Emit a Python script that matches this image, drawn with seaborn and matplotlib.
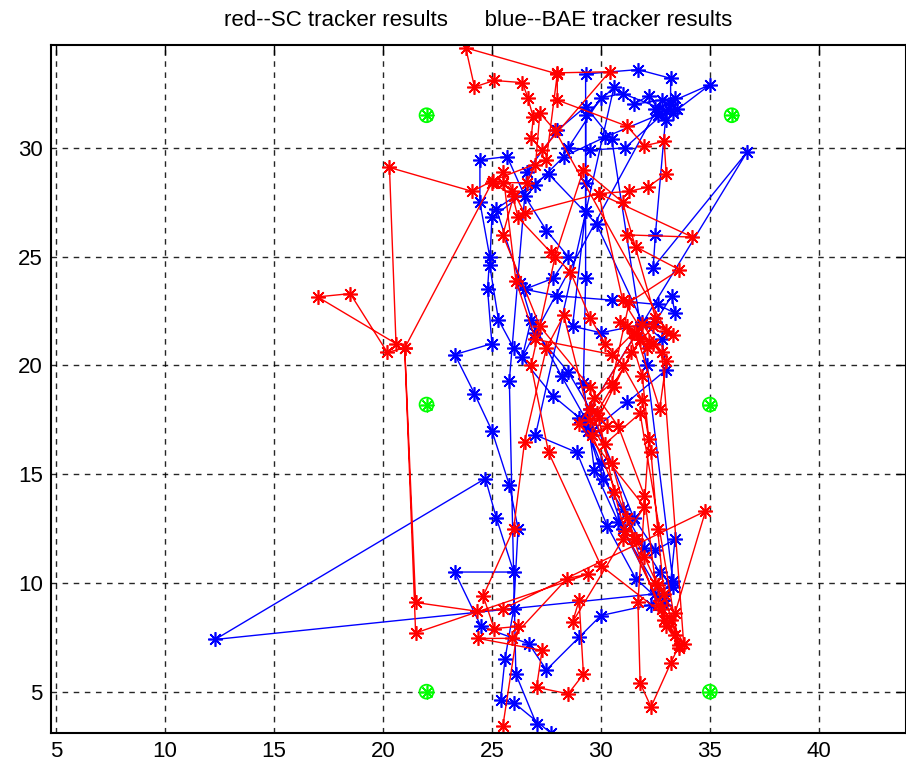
import numpy as np
import pandas as pd
import seaborn as sns
import matplotlib
matplotlib.use("Agg")
import matplotlib.pyplot as plt

# ---- data ----
red_x = [25.5, 26.2, 25.1, 24.6, 26.0, 26.5, 27.5, 28.3, 29.5, 30.5, 31.5, 32.6, 33.0, 33.6, 33.2, 32.3,
         31.8, 31.7, 32.2, 31.9, 31.2, 32.2, 31.0, 29.9, 31.3, 32.15, 33.0, 32.9, 32.0, 31.2, 28.0, 28.0,
         30.4, 27.3, 26.8, 26.9, 26.65, 26.4, 25.1, 24.2, 23.8, 28.0, 27.5, 25.05, 24.1, 20.3, 20.6, 17.0,
         18.5, 20.2, 21.0, 25.0, 26.0, 25.5, 27.2, 29.5, 30.8, 32.0, 32.5, 33.4, 34.8, 25.5, 24.3, 21.5,
         21.0, 21.5, 29.4, 28.45, 25.9, 24.35, 27.3, 27.05, 28.5, 29.2, 29.0, 28.7, 31.0, 32.0, 29.0, 29.7,
         30.5, 31.3, 33.6, 31.6, 31.2, 34.2, 29.9, 26.5, 25.5, 26.1, 27.0, 30.5, 31.5, 32.4, 33.0, 32.7,
         31.6, 32.1, 30.9, 31.8, 29.8, 30.3, 29.6, 31.2, 31.6, 32.0, 32.6, 32.9, 33.4, 32.8, 31.1, 30.6,
         29.9, 30.6, 31.4, 32.4, 33.0, 27.9, 27.2, 27.0, 26.6, 25.5, 25.9, 26.2, 27.7, 28.6, 29.5, 30.2,
         31.0, 31.9, 32.3, 32.6, 32.9, 33.6,
         31.8, 30.2, 29.5, 31.9, 32.8, 33.8, 33.2, 30.0, 27.6, 26.8, 27.9, 29.2, 31.0, 32.5, 33.3]
red_y = [3.4, 8.0, 7.9, 9.4, 12.5, 16.5, 20.8, 22.3, 17.5, 15.5, 12.0, 9.0, 8.0, 7.15, 6.3, 4.3,
         5.4, 9.1, 16.6, 19.5, 21.8, 21.1, 23.0, 27.9, 28.0, 28.2, 28.8, 30.3, 30.1, 31.0, 32.2, 33.45,
         33.5, 29.9, 30.45, 31.4, 32.3, 33.0, 33.1, 32.8, 34.6, 33.4, 29.45, 28.5, 28.0, 29.1, 21.0, 23.15,
         23.3, 20.6, 20.8, 28.4, 27.8, 26.0, 21.8, 19.0, 17.2, 14.0, 10.0, 8.6, 13.3, 8.8, 8.7, 9.1,
         20.8, 7.7, 10.4, 10.2, 7.45, 7.45, 6.9, 5.2, 4.9, 5.8, 9.2, 8.2, 12.0, 13.5, 17.3, 18.5,
         19.2, 22.9, 24.4, 25.45, 26.0, 25.9, 27.9, 27.0, 28.9, 23.9, 21.2, 20.5, 21.5, 21.0, 20.2, 18.0,
         21.5, 20.8, 22.0, 21.2, 17.8, 17.2, 16.8, 13.0, 12.0, 11.2, 9.9, 8.3, 7.6, 8.8, 12.4, 14.2,
         17.6, 19.0, 20.6, 21.8, 21.6, 30.8, 31.6, 29.2, 28.4, 28.4, 28.0, 26.8, 25.2, 24.3, 22.2, 21.0,
         20.0, 18.4, 16.0, 12.5, 9.5, 7.0,
         17.8, 16.4, 18.0, 21.9, 20.6, 7.2, 8.3, 10.8, 16.0, 20.0, 25.0, 29.0, 27.5, 22.2, 21.4]

blue_x = [27.7, 26.0, 25.4, 25.6, 26.0, 26.2, 25.8, 25.0, 24.2, 23.3, 25.0, 24.8, 24.9, 24.45, 24.45, 25.7,
          26.5, 27.5, 28.5, 27.8, 26.5, 28.0, 30.5, 32.6, 33.4, 33.25, 32.5, 30.0, 28.7, 29.3, 29.3, 31.7,
          33.2, 33.2, 32.5, 35.0, 33.3, 31.0, 30.0, 28.5, 29.5, 31.1, 33.0, 32.5, 32.4, 36.7, 29.2, 30.0,
          31.0, 32.5, 12.3, 24.7, 25.2, 26.0, 23.3, 24.5, 26.7, 27.5, 29.0, 30.0, 32.3, 33.2, 33.4, 32.5,
          31.5, 29.5, 28.5, 27.0, 26.3, 25.2, 27.6, 29.8, 31.9, 32.8, 33.0, 31.2, 29.6, 28.2, 26.8, 26.4,
          32.8, 33.5, 33.0, 32.2, 31.5, 33.4, 32.6, 30.2, 28.3, 27.0, 25.0, 24.9, 25.3, 26.0, 27.8, 29.0,
          29.4, 30.1, 31.0, 32.0, 32.7, 33.3, 32.9, 30.8, 29.7, 29.2, 29.3, 29.3, 29.3, 30.6,
          27.0, 28.9, 30.3, 31.6, 32.9, 33.3, 32.1, 30.5, 29.3, 28.0, 26.6, 25.8, 26.1, 27.05]
blue_y = [3.1, 4.5, 4.6, 6.5, 8.8, 12.5, 14.5, 17.0, 18.7, 20.5, 21.0, 23.5, 25.0, 27.5, 29.45, 29.6,
          27.8, 26.2, 25.0, 24.0, 23.5, 23.2, 23.0, 22.8, 22.4, 23.2, 22.0, 21.5, 21.8, 27.1, 33.4, 33.6,
          33.2, 32.0, 31.8, 32.9, 31.6, 32.5, 32.3, 30.0, 29.9, 30.0, 31.7, 26.0, 24.5, 29.8, 17.5, 15.5,
          12.5, 9.5, 7.4, 14.8, 13.0, 10.5, 10.5, 8.0, 7.2, 6.0, 7.5, 8.5, 9.0, 10.0, 12.0, 11.5,
          13.0, 18.0, 19.7, 21.5, 23.8, 27.2, 28.8, 26.5, 22.0, 21.2, 19.8, 18.3, 17.0, 19.5, 22.1, 20.4,
          32.2, 31.8, 31.3, 32.4, 32.0, 32.3, 31.5, 30.5, 29.6, 28.3, 26.8, 24.6, 22.1, 20.8, 18.6, 17.6,
          17.0, 14.8, 13.4, 11.6, 10.5, 9.8, 9.2, 12.8, 15.2, 19.2, 24.0, 28.4, 31.5, 32.8,
          16.8, 16.0, 12.6, 10.2, 9.0, 10.1, 20.0, 30.4, 31.9, 30.8, 28.9, 19.3, 5.8, 3.5]

ref_x = [22, 36, 22, 35, 22, 35]
ref_y = [31.5, 31.5, 18.2, 18.2, 5.0, 5.0]

xticks = [5, 10, 15, 20, 25, 30, 35, 40]
yticks = [5, 10, 15, 20, 25, 30]
title = "red--SC tracker results      blue--BAE tracker results"

# ---- plot ----
sns.set_style("white")
plt.rcParams['font.family'] = ['Liberation Sans Narrow', 'Liberation Sans', 'DejaVu Sans']

fig = plt.figure(figsize=(9.06, 7.70), dpi=100)
ax = fig.add_axes([51 / 906, 1 - 733 / 770, 1 - 51 / 906, (733 - 45) / 770])

ast = (8, 2, 0)
sns.lineplot(x=blue_x, y=blue_y, sort=False, estimator=None, color='#0000ff', lw=1.0,
             marker=ast, markersize=10.5, markeredgewidth=1.2, markeredgecolor='#0000ff', ax=ax)
sns.lineplot(x=red_x, y=red_y, sort=False, estimator=None, color='#ff0000', lw=1.0,
             marker=ast, markersize=10.5, markeredgewidth=1.2, markeredgecolor='#ff0000', ax=ax)
sns.scatterplot(x=ref_x, y=ref_y, marker='o', s=100, facecolor='none', edgecolor='#00ff00',
                linewidth=1.3, ax=ax, zorder=5)
sns.scatterplot(x=ref_x, y=ref_y, marker=ast, s=80, color='#00ff00', edgecolor='#00ff00',
                linewidth=1.2, ax=ax, zorder=5)

ax.set_xlim(4.77, 44.0)
ax.set_ylim(3.1, 34.73)
ax.set_xticks(xticks)
ax.set_yticks(yticks)
ax.grid(True, color='black', linestyle=(0, (4, 4)), linewidth=1.0, alpha=0.85)
ax.set_axisbelow(True)
ax.tick_params(direction='in', length=7, width=1, top=True, right=True, labelsize=16,
               colors='black', pad=6)
for s in ax.spines.values():
    s.set_color('black')
    s.set_linewidth(1.5)
ax.set_xlabel('')
ax.set_ylabel('')
ax.set_title(title, fontsize=16, pad=14, color='black')

fig.savefig('out.png', dpi=100)
